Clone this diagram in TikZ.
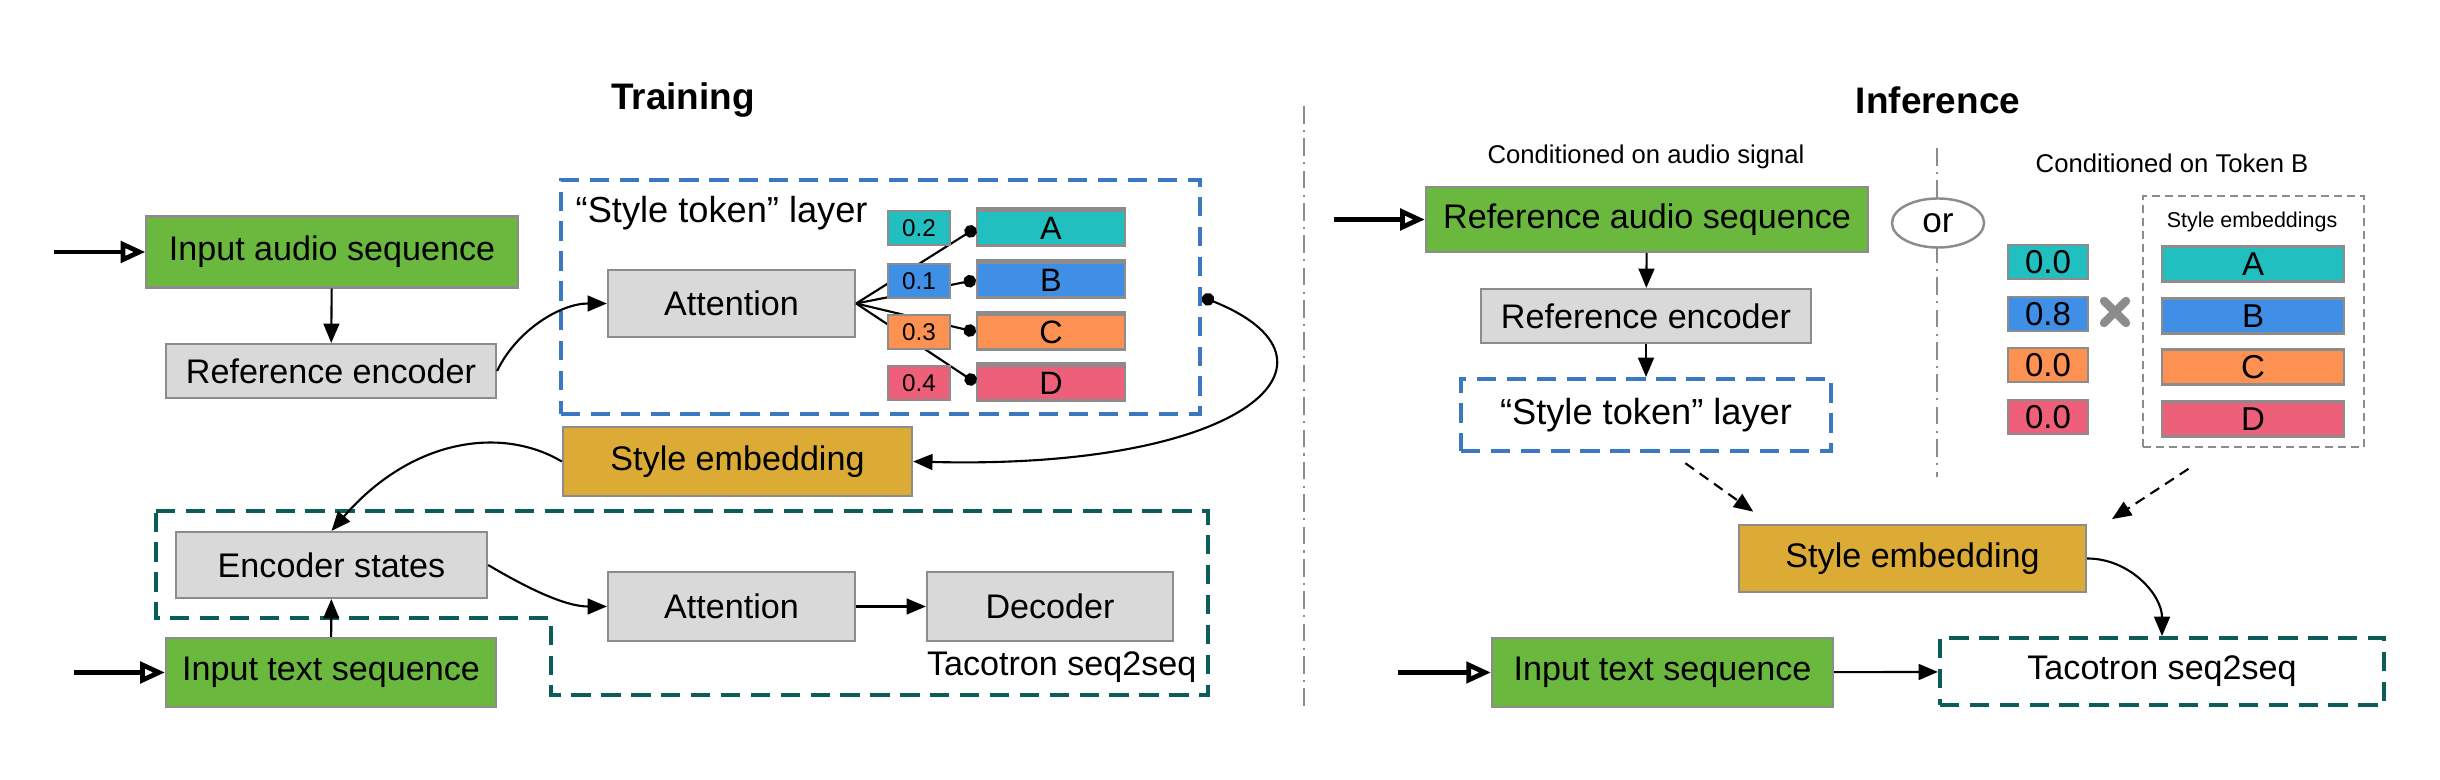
\documentclass[tikz,border=0pt]{standalone}
\usepackage{fontspec}
\setmainfont{Liberation Sans}
\usetikzlibrary{arrows.meta,shapes.geometric}

\definecolor{seqgreen}{HTML}{6AB93E}
\definecolor{boxgray}{HTML}{D9D9D9}
\definecolor{boxline}{HTML}{8C8C8C}
\definecolor{embgold}{HTML}{DCAB36}
\definecolor{tokA}{HTML}{21BFBF}
\definecolor{tokB}{HTML}{3F8FE7}
\definecolor{tokC}{HTML}{FC9152}
\definecolor{tokD}{HTML}{EE6079}
\definecolor{stlblue}{HTML}{3B78C2}
\definecolor{tacoteal}{HTML}{0C5D59}
\newcommand{\fsz}[1]{\fontsize{#1pt}{#1pt}\selectfont}

\begin{document}
\begin{tikzpicture}[x=0.01cm,y=-0.01cm,every node/.style={font=\fsz{9.7}},
  blk/.style={draw=boxline,line width=0.6pt,inner sep=0pt},
  gbox/.style={blk,fill=boxgray},
  sbox/.style={blk,fill=seqgreen},
  ebox/.style={blk,fill=embgold},
  wbox/.style={blk,minimum height=0.34cm,font=\fsz{6.9}},
  tbox/.style={blk,minimum height=0.35cm,font=\fsz{9.2}},
  stlframe/.style={draw=stlblue,line width=1.1pt,dash pattern=on 5.5pt off 3pt,inner sep=0pt},
  tacoframe/.style={draw=tacoteal,line width=1.1pt,dash pattern=on 5.5pt off 3pt,inner sep=0pt},
  arr/.style={-{Triangle[length=5.5pt,width=4.5pt]},line width=0.6pt},
  inarr/.style={-{Triangle[open,length=7pt,width=6pt]},line width=1.35pt},
  dotarr/.style={-{Circle[length=3.6pt]},line width=0.6pt},
  dasharr/.style={arr,dash pattern=on 3pt off 2pt},
  sepline/.style={draw=boxline,line width=0.7pt,dash pattern=on 5pt off 1.8pt on 0.6pt off 1.8pt}]
\useasboundingbox (0,0) rectangle (2440,780);

% training
\node[font=\fsz{10.5}\bfseries] (train) at (683,100) {Training};
\node[sbox,minimum width=3.71cm,minimum height=0.71cm] (ias) at (332,252) {Input audio sequence};
\node[gbox,minimum width=3.30cm,minimum height=0.54cm] (ref1) at (331,371) {Reference encoder};
\node[stlframe,minimum width=6.39cm,minimum height=2.34cm] (stl1) at (880.5,297) {};
\node[anchor=west,inner sep=0pt,font=\fsz{10.3}] (stltxt1) at (575,213) {“Style token” layer};
\node[gbox,minimum width=2.47cm,minimum height=0.67cm] (att1) at (731.5,303.5) {Attention};
\foreach \t/\y/\c in {A/228/tokA,B/280/tokB,C/332/tokC,D/383/tokD}{
  \node[tbox,fill=\c,minimum width=1.48cm] (t\t) at (1051,\y) {\t};
  \draw[boxline,line width=1.3pt] (t\t.north west) -- (t\t.north east);
  \draw[dotarr] (att1.east) -- (t\t.west);
}
\foreach \t/\w/\y/\c in {A/0.2/228/tokA,B/0.1/281/tokB,C/0.3/332/tokC,D/0.4/383/tokD}
  \node[wbox,fill=\c,minimum width=0.62cm] (w\t) at (919,\y) {\w};
\node[ebox,minimum width=3.49cm,minimum height=0.69cm] (se1) at (737.5,461.5) {Style embedding};

\draw[tacoframe] (156,511) -- (1208,511) -- (1208,695) -- (551,695) -- (551,618) -- (156,618) -- cycle;
\node[gbox,minimum width=3.11cm,minimum height=0.66cm] (enc) at (331.5,565) {Encoder states};
\node[sbox,minimum width=3.30cm,minimum height=0.69cm] (its1) at (331,672.5) {Input text sequence};
\node[gbox,minimum width=2.47cm,minimum height=0.69cm] (att2) at (731.5,606.5) {Attention};
\node[gbox,minimum width=2.46cm,minimum height=0.69cm] (dec) at (1050,606.5) {Decoder};
\node[anchor=east,inner sep=0pt] (tacolbl1) at (1197,667) {Tacotron seq2seq};

\coordinate (ias0) at (54,252);
\coordinate (its0) at (74,672.5);
\draw[inarr] (ias0) -- (ias.west);
\draw[inarr] (its0) -- (its1.west);
\draw[arr] (ias) -- (ref1);
\draw[arr] (ref1.east) .. controls (516,331) and (560,303.5) .. (att1.west);
\draw[{Circle[length=3.6pt]}-{Triangle[length=5.5pt,width=4.5pt]},line width=0.6pt]
  (stl1.east) .. controls (1360,360) and (1250,470) .. (se1.east);
\draw[arr] (se1.west) .. controls (500,425) and (410,440) .. (enc.north);
\draw[arr] (its1) -- (enc);
\draw[arr] (enc.east) .. controls (527,588) and (565,606.5) .. (att2.west);
\draw[arr] (att2) -- (dec);

\draw[sepline] (1304,106) -- (1304,710);

% inference
\node[font=\fsz{10.5}\bfseries] (infer) at (1938,100) {Inference};
\node[font=\fsz{7.3}] (cond1) at (1646,157) {Conditioned on audio signal};
\node[sbox,minimum width=4.42cm,minimum height=0.65cm] (ras) at (1647,219.5) {Reference audio sequence};
\node[gbox,minimum width=3.30cm,minimum height=0.54cm] (ref2) at (1646,316) {Reference encoder};
\node[stlframe,minimum width=3.70cm,minimum height=0.72cm,font=\fsz{10.3}] (stl2) at (1646,415) {“Style token” layer};

\draw[sepline] (1937,148) -- (1937,477);
\node[ellipse,draw=boxline,line width=0.7pt,fill=white,inner sep=0pt,
  minimum width=0.92cm,minimum height=0.49cm,font=\fsz{10}] (or) at (1938,223) {or};
\node[font=\fsz{7.3}] (cond2) at (2172,163) {Conditioned on Token B};
\node[draw=boxline,line width=0.6pt,dash pattern=on 2.2pt off 1.5pt,inner sep=0pt,
  minimum width=2.21cm,minimum height=2.51cm] (emb) at (2253.5,321.5) {};
\node[font=\fsz{6.1}] (embtxt) at (2252,222) {Style embeddings};
\foreach \t/\w/\y/\c in {A/0.0/262/tokA,B/0.8/314/tokB,C/0.0/365/tokC,D/0.0/417/tokD}{
  \node[wbox,fill=\c,minimum width=0.80cm,font=\fsz{9.4}] (v\t) at (2048,\y) {\w};
  \node[tbox,fill=\c,minimum width=1.82cm,font=\fsz{9.4}] (e\t) at (2253,\y+2) {\t};
}
\draw[boxline,line width=2.4pt,line cap=round] (2104,301) -- (2126,323) (2104,323) -- (2126,301);

\node[ebox,minimum width=3.47cm,minimum height=0.67cm] (se2) at (1912.5,558.5) {Style embedding};
\node[sbox,minimum width=3.41cm,minimum height=0.69cm] (its2) at (1662.5,672.5) {Input text sequence};
\node[tacoframe,minimum width=4.44cm,minimum height=0.67cm] (taco2) at (2162,671.5) {Tacotron seq2seq};

\coordinate (ras0) at (1334,219.5);
\coordinate (its20) at (1398,672.5);
\draw[inarr] (ras0) -- (ras.west);
\draw[inarr] (its20) -- (its2.west);
\draw[arr] (ras) -- (ref2);
\draw[arr] (ref2) -- (stl2);
\draw[dasharr,shorten <=5pt,shorten >=6pt] ([xshift=0.25cm]stl2.south) -- ([xshift=-1.42cm]se2.north);
\draw[dasharr,shorten <=10.7pt,shorten >=2.5pt] ([xshift=-0.335cm]emb.south) -- ([xshift=1.92cm]se2.north);
\draw[arr] (se2.east) .. controls (2130,558.5) and (2162,595) .. (taco2.north);
\draw[arr] (its2) -- (taco2);
\end{tikzpicture}
\end{document}
